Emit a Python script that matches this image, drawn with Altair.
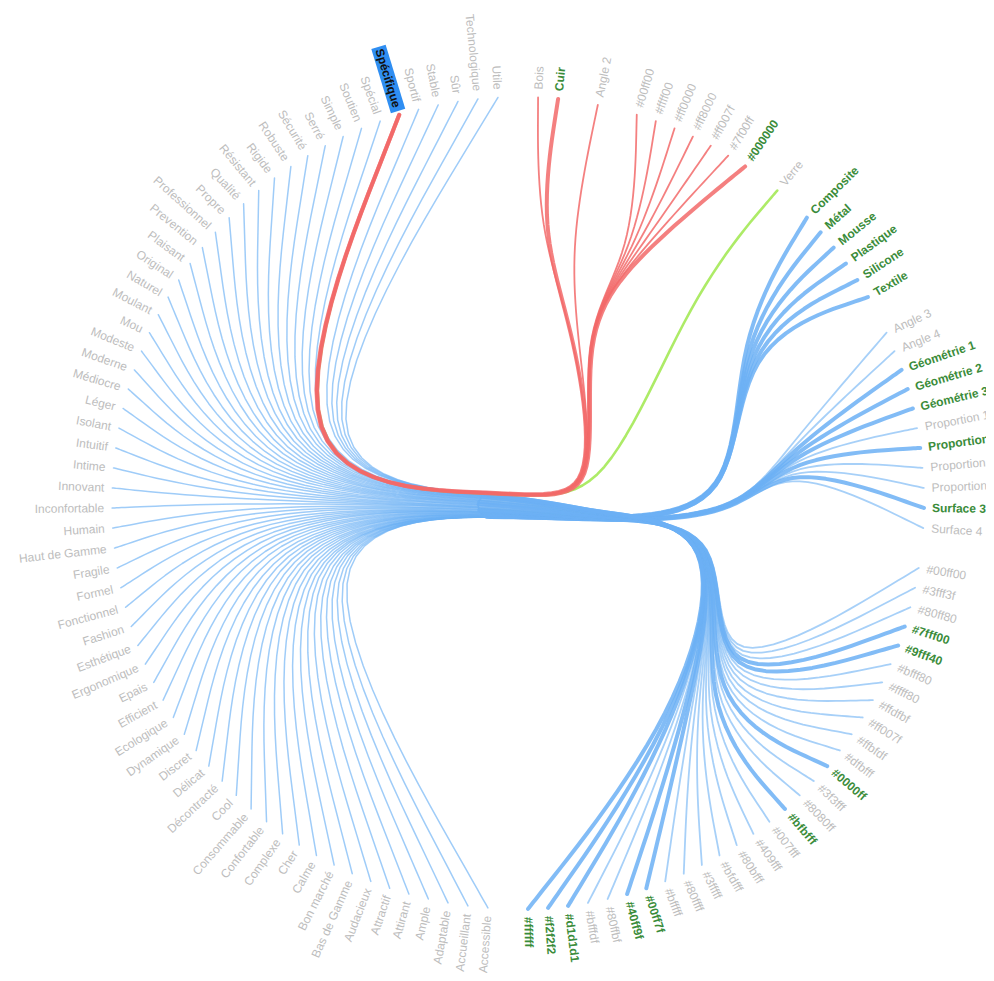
import math
import altair as alt
import pandas as pd

# ---------------- data ----------------
# right-hand leaves, clockwise from 12 o'clock, grouped by parent node
right_groups = [
    ["Bois", "Cuir"],
    ["Angle 2"],
    ["#00ff00", "#ffff00", "#ff0000", "#ff8000", "#ff007f", "#7f00ff", "#000000"],
    ["Verre"],
    ["Composite", "Métal", "Mousse", "Plastique", "Silicone", "Textile"],
    ["Angle 3", "Angle 4", "Géométrie 1", "Géométrie 2", "Géométrie 3",
     "Proportion 1", "Proportion 2", "Proportion 3", "Proportion 4", "Surface 3", "Surface 4"],
    ["#00ff00", "#3fff3f", "#80ff80", "#7fff00", "#9fff40", "#bfff80", "#ffff80", "#ffdfbf",
     "#ff007f", "#ffbfdf", "#dfbfff", "#0000ff", "#3f3fff", "#8080ff", "#bfbfff", "#007fff",
     "#409fff", "#80bfff", "#bfdfff", "#3fffff", "#80ffff", "#bfffff", "#00ff7f", "#40ff9f",
     "#80ffbf", "#bfffdf", "#d1d1d1", "#f2f2f2", "#ffffff"],
]
# left-hand leaves, clockwise from 6 o'clock
adjectives = [
    "Accessible", "Accueillant", "Adaptable", "Ample", "Attirant", "Attractif", "Audacieux",
    "Bas de Gamme", "Bon marché", "Calme", "Cher", "Complexe", "Confortable", "Consommable",
    "Cool", "Décontracté", "Délicat", "Discret", "Dynamique", "Ecologique", "Efficient", "Epais",
    "Ergonomique", "Esthétique", "Fashion", "Fonctionnel", "Formel", "Fragile", "Haut de Gamme",
    "Humain", "Inconfortable", "Innovant", "Intime", "Intuitif", "Isolant", "Léger", "Médiocre",
    "Moderne", "Modeste", "Mou", "Moulant", "Naturel", "Original", "Plaisant", "Prevention",
    "Professionnel", "Propre", "Qualité", "Résistant", "Rigide", "Robuste", "Sécurité", "Serré",
    "Simple", "Soutien", "Spécial", "Spécifique", "Sportif", "Stable", "Sûr", "Technologique", "Utile",
]
# leaves with strong links (bold green labels, thick lines): (group index, name)
strong = [
    (0, "Cuir"), (2, "#000000"),
    (4, "Composite"), (4, "Métal"), (4, "Mousse"), (4, "Plastique"), (4, "Silicone"), (4, "Textile"),
    (5, "Géométrie 1"), (5, "Géométrie 2"), (5, "Géométrie 3"), (5, "Proportion 2"), (5, "Surface 3"),
    (6, "#7fff00"), (6, "#9fff40"), (6, "#0000ff"), (6, "#bfbfff"), (6, "#00ff7f"), (6, "#40ff9f"),
    (6, "#d1d1d1"), (6, "#f2f2f2"), (6, "#ffffff"),
]
highlight = "Spécifique"
red_groups = [0, 1, 2]      # targets of the highlighted node
green_groups = [3]          # sources of the highlighted node
blue_groups = [4, 5, 6]

# ---------------- layout (radial cluster + bundling) ----------------
R_LEAF = 406.0
BETA_HL = 0.97   # bundling strength of the highlighted links
BETA_BG = 0.93   # bundling strength of the other links
STEPS = 12

leaves = []  # (key, name, group)
for g, names in enumerate(right_groups):
    for n in names:
        leaves.append(((g, n), n, g))
for n in adjectives:
    leaves.append((("A", n), n, "A"))

xraw = {}
acc = 0.0
prev = None
for key, name, g in leaves:
    if prev is not None:
        acc += 1 if prev == g else 2
    xraw[key] = acc
    prev = g
x0, x1 = -1.0, acc + 1.0


def deg(xr):
    return (xr - x0) / (x1 - x0) * 360.0


def pos(xdeg, r):
    th = math.radians(90.0 - xdeg)
    return (r * math.cos(th), r * math.sin(th))


leaf_deg = {k: deg(v) for k, v in xraw.items()}
grp_deg = {}
for g in range(len(right_groups)):
    ks = [k for k, n, gg in leaves if gg == g]
    grp_deg[g] = sum(leaf_deg[k] for k in ks) / len(ks)
grp_deg["A"] = sum(leaf_deg[("A", n)] for n in adjectives) / len(adjectives)
red_leaf_degs = [leaf_deg[k] for k, n, g in leaves if g in red_groups]
red_deg = sum(red_leaf_degs) / len(red_leaf_degs)

ROOT = (0.0, 0.0)
NODE_A = pos(grp_deg["A"], R_LEAF * 0.667)
NODE_P = pos(98.0, R_LEAF * 0.212)     # right-hand hub next to the root
NODE_R = pos(red_deg, R_LEAF * 0.43)
NODE_B = pos(93.0, R_LEAF * 0.55)


def gnode(g):
    return pos(grp_deg[g], R_LEAF * 0.667)


def leafpt(key):
    return pos(leaf_deg[key], R_LEAF)


def bundle_curve(points, beta):
    n = len(points) - 1
    (ax, ay), (bx, by) = points[0], points[-1]
    ctrl = [(beta * px + (1 - beta) * (ax + (bx - ax) * j / n),
             beta * py + (1 - beta) * (ay + (by - ay) * j / n)) for j, (px, py) in enumerate(points)]
    ext = [ctrl[0]] * 2 + ctrl + [ctrl[-1]] * 2
    out = []
    for k in range(len(ext) - 3):
        P = ext[k:k + 4]
        for s in range(STEPS):
            t = s / STEPS
            b = [(1 - t) ** 3 / 6, (3 * t ** 3 - 6 * t ** 2 + 4) / 6,
                 (-3 * t ** 3 + 3 * t ** 2 + 3 * t + 1) / 6, t ** 3 / 6]
            out.append((sum(b[i] * P[i][0] for i in range(4)), sum(b[i] * P[i][1] for i in range(4))))
    out.append(ctrl[-1])
    return out


rows = []


def add(pid, pts, layer, col, w, op):
    for i, (x, y) in enumerate(pts):
        rows.append({"path": pid, "ord": i, "x": x, "y": y, "layer": layer,
                     "col": col, "w": w, "op": op})


strong_set = set(strong)
BLUE, RED, GREEN = "#6cb0f4", "#f26a6a", "#9fe84c"
W_THIN, W_BOLD = 1.8, 4.0
spec_key = ("A", highlight)

# blue links: left halves (one per adjective) and right halves (one per blue leaf)
adj_keys = [("A", n) for n in adjectives if n != highlight]
blue_keys = [k for k, n, g in leaves if g in blue_groups]
na, nb = len(adj_keys), len(blue_keys)
cut = 3 * STEPS
for i, ak in enumerate(adj_keys):
    bk = blue_keys[round(i * (nb - 1) / (na - 1))]
    pts = bundle_curve([leafpt(ak), NODE_A, ROOT, NODE_P, NODE_B, gnode(bk[0]), leafpt(bk)], BETA_BG)
    add("L%d" % i, pts[:cut + 1], "blue", BLUE, 1.5, 0.65)
for j, bk in enumerate(blue_keys):
    ak = adj_keys[round(j * (na - 1) / (nb - 1))]
    pts = bundle_curve([leafpt(ak), NODE_A, ROOT, NODE_P, NODE_B, gnode(bk[0]), leafpt(bk)], BETA_BG)
    bold = bk in strong_set
    add("R%d" % j, pts[cut:], "blue", BLUE, W_BOLD if bold else W_THIN, 0.85 if bold else 0.6)

# red links: highlighted node -> targets
for j, (k, n, g) in enumerate([l for l in leaves if l[2] in red_groups]):
    pts = bundle_curve([leafpt(spec_key), NODE_A, ROOT, NODE_P, NODE_R, gnode(g), leafpt(k)], BETA_HL)
    w = W_BOLD if k in strong_set else W_THIN
    add("T%d" % j, pts, "red", RED, w, 0.85)
# green links: sources -> highlighted node
for j, (k, n, g) in enumerate([l for l in leaves if l[2] in green_groups]):
    pts = bundle_curve([leafpt(spec_key), NODE_A, ROOT, NODE_P, gnode(g), leafpt(k)], BETA_HL)
    add("S%d" % j, pts, "green", GREEN, 2.6, 0.85)

lines_df = pd.DataFrame(rows)

# labels
R_LABEL = R_LEAF + 8
lab = []
for k, n, g in leaves:
    d = leaf_deg[k]
    th = 90.0 - d
    x, y = pos(d, R_LABEL)
    left = g == "A"
    ang = (180.0 - th) % 360 if left else (-th) % 360
    kind = "hl" if k == spec_key else ("bold" if k in strong_set else ("left" if left else "right"))
    lab.append({"name": n, "x": x, "y": y, "ang": ang, "kind": kind})
lab_df = pd.DataFrame(lab)

sd = leaf_deg[spec_key]
hx1, hy1 = pos(sd, R_LEAF + 4)
hx2, hy2 = pos(sd, R_LEAF + 71)
hl_df = pd.DataFrame([{"x": hx1, "y": hy1, "x2": hx2, "y2": hy2}])

# ---------------- chart ----------------
xs = alt.Scale(domain=[-510, 468], nice=False, zero=False)
ys = alt.Scale(domain=[-470, 495], nice=False, zero=False)
X = alt.X("x:Q", scale=xs, axis=None)
Y = alt.Y("y:Q", scale=ys, axis=None)


def line_layer(layer):
    return alt.Chart(lines_df).transform_filter(alt.datum.layer == layer).mark_line(
        strokeCap="round", strokeJoin="round").encode(
        x=X, y=Y, detail="path:N", order="ord:Q",
        color=alt.Color("col:N", scale=None),
        strokeWidth=alt.StrokeWidth("w:Q", scale=None),
        opacity=alt.Opacity("op:Q", scale=None),
    )


def text_layer(kind, align, color, weight):
    return alt.Chart(lab_df).transform_filter(alt.datum.kind == kind).mark_text(
        align=align, baseline="middle", font="Liberation Sans", fontSize=12,
        color=color, fontWeight=weight).encode(
        x=X, y=Y, text="name:N", angle=alt.Angle("ang:Q", scale=None))


hl_rule = alt.Chart(hl_df).mark_rule(color="#2f8ef2", strokeWidth=15, strokeCap="butt").encode(
    x=X, y=Y, x2="x2:Q", y2="y2:Q")

chart = alt.layer(
    line_layer("blue"), line_layer("green"), line_layer("red"),
    text_layer("left", "right", "#bdbdbd", "normal"),
    text_layer("right", "left", "#bdbdbd", "normal"),
    text_layer("bold", "left", "#3a8c3a", "bold"),
    hl_rule,
    text_layer("hl", "right", "#111111", "bold"),
).properties(
    width=978, height=965, padding=0,
    autosize=alt.AutoSizeParams(type="none"),
).configure_view(stroke=None)

chart.save("out.html", embed_options={"renderer": "svg", "actions": False})
